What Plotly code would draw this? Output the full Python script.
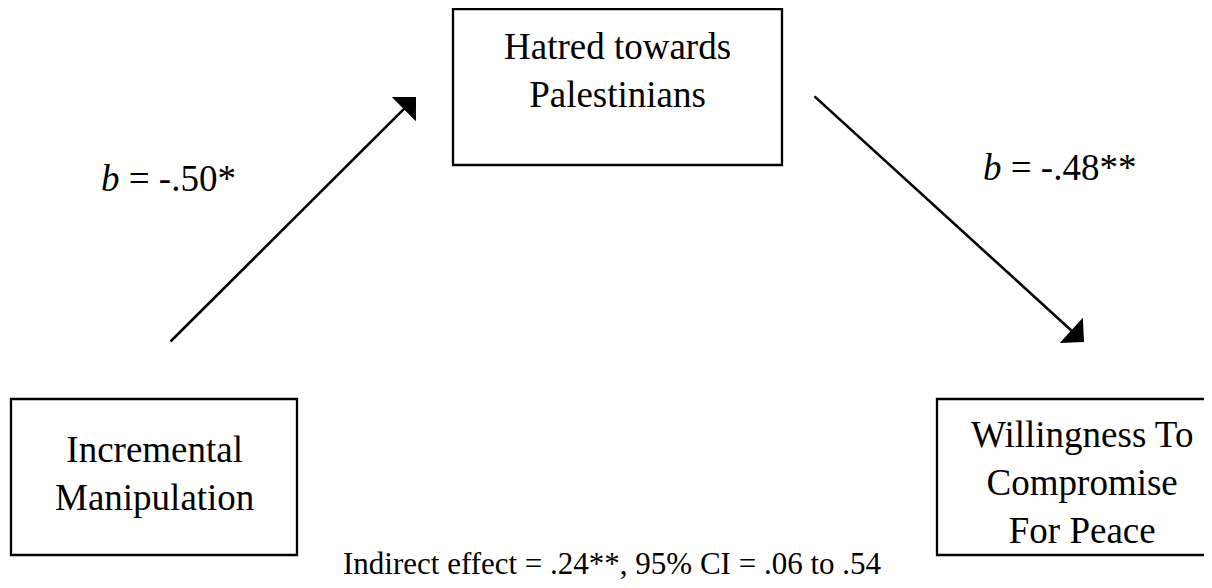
import plotly.graph_objects as go

# ---- content (data) ----
node_labels = ["Incremental<br>Manipulation",
               "Hatred towards<br>Palestinians",
               "Willingness To<br>Compromise<br>For Peace"]
path_names = ["a", "b"]
path_coefficients = ["-.50", "-.48"]
path_significance = ["*", "**"]
indirect_effect = ".24"
indirect_significance = "**"
ci_level = "95%"
ci_lower = ".06"
ci_upper = ".54"

# ---- layout geometry (pixels, y down) ----
W, H = 1212, 588
PAGE_OFFSET = 8  # default page body margin
boxes = [  # x0, y0, x1, y1, text center x, text center y
    (11, 399, 297, 555, 154, 473),
    (453, 9, 782, 165, 617, 70),
    (937, 399, 1214, 555, 1082, 482),
]
arrows = [  # tail x, tail y, tip x, tip y
    (169, 343, 416, 97),
    (813, 95, 1084, 342),
]
coef_pos = [(168, 178), (1059, 167)]
bottom_pos = (612, 563)

FONT = "Times New Roman, Liberation Serif, serif"

fig = go.Figure()
fig.add_trace(go.Scatter(x=[0, W], y=[0, H], mode="markers",
                         marker=dict(opacity=0), hoverinfo="skip", showlegend=False))

shapes = []
annotations = []
for (x0, y0, x1, y1, tx, ty), label in zip(boxes, node_labels):
    shapes.append(dict(type="rect", xref="x", yref="y", x0=x0, y0=y0, x1=x1, y1=y1,
                       line=dict(color="black", width=2.3), fillcolor="rgba(0,0,0,0)"))
    annotations.append(dict(x=tx, y=ty, xref="x", yref="y", text=label, showarrow=False,
                            font=dict(family=FONT, size=37, color="black"),
                            xanchor="center", yanchor="middle", align="center"))

for (ax_, ay_, x_, y_) in arrows:
    annotations.append(dict(x=x_, y=y_, ax=ax_, ay=ay_, xref="x", yref="y",
                            axref="x", ayref="y", text="", showarrow=True,
                            arrowhead=1, arrowsize=2.2, arrowwidth=2.6,
                            arrowcolor="black", standoff=0, startstandoff=0))

for (cx, cy), coef, sig in zip(coef_pos, path_coefficients, path_significance):
    annotations.append(dict(x=cx, y=cy, xref="x", yref="y",
                            text=f"<i>b</i> = {coef}{sig}", showarrow=False,
                            font=dict(family=FONT, size=37, color="black"),
                            xanchor="center", yanchor="middle"))

annotations.append(dict(x=bottom_pos[0], y=bottom_pos[1], xref="x", yref="y",
                        text=f"Indirect effect = {indirect_effect}{indirect_significance}, "
                             f"{ci_level} CI = {ci_lower} to {ci_upper}",
                        showarrow=False, font=dict(family=FONT, size=31, color="black"),
                        xanchor="center", yanchor="middle"))

fig.update_layout(
    width=W, height=H, margin=dict(l=0, r=0, t=0, b=0),
    paper_bgcolor="white", plot_bgcolor="white",
    xaxis=dict(range=[PAGE_OFFSET, W + PAGE_OFFSET], visible=False, fixedrange=True),
    yaxis=dict(range=[H + PAGE_OFFSET, PAGE_OFFSET], visible=False, fixedrange=True),
    shapes=shapes, annotations=annotations, showlegend=False,
)
fig.write_html("out.html")
